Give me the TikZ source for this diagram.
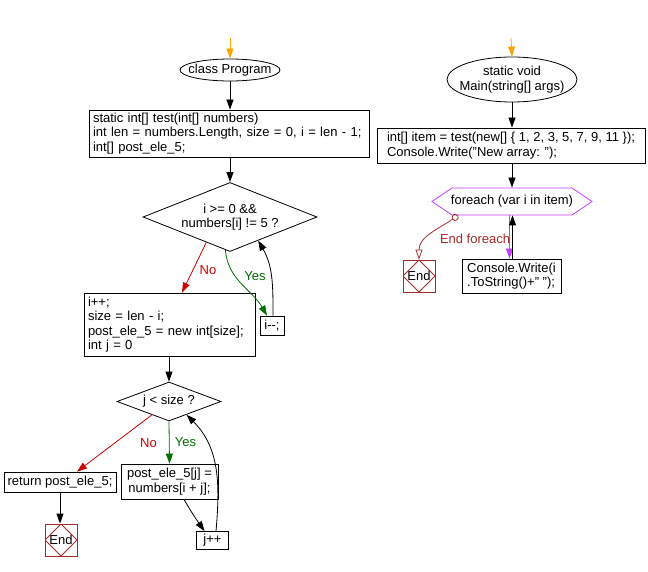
\documentclass[tikz,border=0pt]{standalone}
\usepackage{fontspec}
\setmainfont{Liberation Sans}
\usepackage{xcolor}
\usepackage{tikz}
\usetikzlibrary{arrows.meta,shapes.geometric,shapes.symbols}
\definecolor{flowred}{RGB}{204,0,0}
\definecolor{flowgreen}{RGB}{0,110,0}
\definecolor{endred}{RGB}{165,42,42}
\definecolor{loopviolet}{RGB}{200,60,255}
\definecolor{startorange}{RGB}{255,165,0}

\begin{document}
\begin{tikzpicture}[x=1pt, y=-1pt, line width=0.8pt,
    every node/.style={font=\fontsize{13}{14.5}\selectfont},
    proc/.style={draw, rectangle, align=left, inner sep=0pt},
    term/.style={draw, ellipse, inner sep=0pt},
    cond/.style={draw, diamond, inner sep=0pt},
    loopbox/.style={draw=loopviolet, signal, signal to=west and east, signal pointer angle=68, inner sep=0pt},
    endbox/.style={draw=endred, minimum size=32pt, inner sep=0pt,
        path picture={\draw[endred] (path picture bounding box.north) -- (path picture bounding box.east) -- (path picture bounding box.south) -- (path picture bounding box.west) -- cycle;}},
    flow/.style={-{Triangle[length=10pt,width=7pt]}}
]
\useasboundingbox (0,0) rectangle (648,572);
% left: test()
\coordinate (start1) at (230,38);
\node[term, minimum width=100pt, minimum height=22pt, label=center:{class Program}] (prog) at (230,70) {};
\node[proc, inner xsep=4pt, text width=272pt, minimum height=47pt] (decl) at (229,133.5) {static int[] test(int[] numbers)\\int len = numbers.Length, size = 0, i = len - 1;\\int[] post\_ele\_5;};
\node[cond, minimum width=174pt, minimum height=69pt, label={[align=center]center:{i >= 0 \&\&\\numbers[i] != 5 ?}}] (cond1) at (230,217) {};
\node[proc, minimum width=24pt, minimum height=19pt] (dec) at (272,325.5) {i-{}-;};
\node[proc, inner xsep=4pt, text width=163pt, minimum height=63pt] (inc) at (169.5,324.5) {i++;\\size = len - i;\\post\_ele\_5 = new int[size];\\int j = 0};
\node[cond, minimum width=104pt, minimum height=39pt, label=center:{j < size ?}] (cond2) at (169,401.5) {};
\node[proc, minimum width=112pt, minimum height=20pt] (ret) at (60,482) {return post\_ele\_5;};
\node[endbox] (end1) at (61,540) {End};
\node[proc, align=center, minimum width=97pt, minimum height=35pt] (assign) at (169.5,481.5) {post\_ele\_5[j] =\\numbers[i + j];};
\node[proc, minimum width=32pt, minimum height=18pt] (jinc) at (212.5,540.5) {j++};

\draw[flow, startorange] (start1) -- (prog.north);
\draw[flow] (prog.south) -- (prog.south |- decl.north);
\draw[flow] (cond1.north |- decl.south) -- (cond1.north);
\draw[flow, flowred] (cond1.227) -- node[pos=.55, right=3pt] {No} ([xshift=12.5pt]inc.north);
\draw[flow, flowgreen] (cond1.262) to[out=-85, in=120] node[pos=.35, right=6pt] {Yes} ([xshift=-5pt]dec.north);
\draw[flow] ([xshift=1pt]dec.north) to[out=90, in=-60] (cond1.-40);
\draw[flow] (cond2.north |- inc.south) -- (cond2.north);
\draw[flow, flowred] (cond2.218) -- node[pos=.5, right=22pt] {No} ([xshift=17pt]ret.north);
\draw[flow, flowgreen] (cond2.south) -- node[right=2pt] {Yes} (assign.north);
\draw[flow] (ret.south) -- (ret.south |- end1.north);
\draw[flow] ([xshift=14.5pt]assign.south) to[out=-60, in=125] ([xshift=-8pt]jinc.north);
\draw[flow] ([xshift=3.5pt]jinc.north) to[out=85, in=-45] (cond2.-37);

% right: Main()
\coordinate (start2) at (511,38);
\node[term, minimum width=130pt, minimum height=45pt, label={[align=center]center:{static void\\Main(string[] args)}}] (mainm) at (512,79.5) {};
\node[proc, minimum width=268pt, minimum height=35pt] (init) at (511,145.5) {int[] item = test(new[] \{ 1, 2, 3, 5, 7, 9, 11 \});\\Console.Write("New array: ");};
\node[loopbox, minimum width=160pt, minimum height=27pt, label=center:{foreach (var i in item)}] (loopf) at (512,201.5) {};
\node[endbox] (end2) at (419,276) {End};
\node[proc, minimum width=99pt, minimum height=34pt] (write) at (511.5,276) {Console.Write(i\\.ToString()+" ");};

\draw[flow, startorange] (start2) -- (mainm.north);
\draw[flow] (mainm.south) -- (mainm.south |- init.north);
\draw[flow] (loopf.north |- init.south) -- (loopf.north);
\draw[flow, loopviolet] ([xshift=-2.5pt]loopf.south) -- ([xshift=-2pt]write.north);
\draw[flow] ([xshift=1pt]write.north) -- ([xshift=.5pt]loopf.south);
\draw[endred, {Circle[open,length=7pt]}-{Triangle[open,length=10pt,width=7pt]}] ([xshift=-54pt]loopf.south) to[out=215, in=90] node[pos=.55, anchor=west, xshift=7pt, yshift=-3pt, text=endred] {End foreach} (end2.north);
\end{tikzpicture}
\end{document}
